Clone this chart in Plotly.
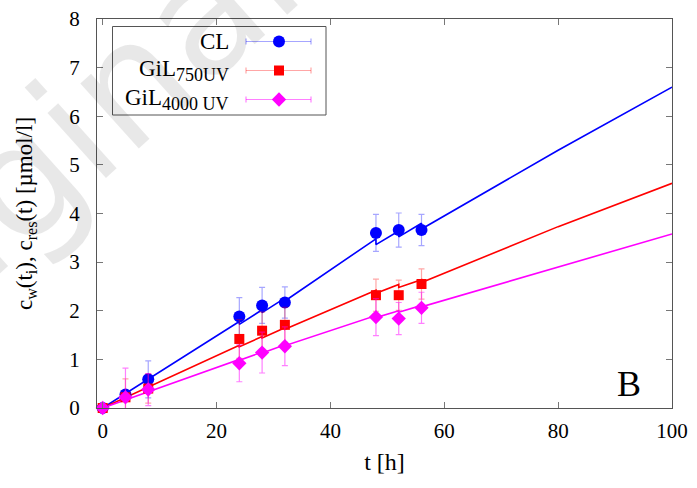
import plotly.graph_objects as go

# ---------------- data ----------------
t_pts = [0, 4, 8, 24, 28, 32, 48, 52, 56]

cl_y = [0, 0.28, 0.59, 1.88, 2.11, 2.17, 3.60, 3.66, 3.66]
cl_err = [0, 0.05, 0.38, 0.39, 0.37, 0.32, 0.38, 0.35, 0.32]

gil750_y = [0, 0.22, 0.40, 1.42, 1.59, 1.71, 2.32, 2.32, 2.55]
gil750_err = [0, 0.38, 0.30, 0.40, 0.38, 0.36, 0.33, 0.31, 0.31]

gil4000_y = [0, 0.22, 0.38, 0.92, 1.14, 1.27, 1.87, 1.84, 2.06]
gil4000_err = [0, 0.60, 0.33, 0.38, 0.42, 0.40, 0.38, 0.33, 0.32]

# model curves (value just before / after each sampling)
model_t = [0, 24, 24, 28, 28, 32, 32, 48, 48, 52, 52, 56, 56, 80, 100]
cl_model = [0, 1.78, 1.72, 2.02, 1.96, 2.26, 2.20, 3.48, 3.36, 3.64, 3.52, 3.80, 3.68, 5.30, 6.60]
gil750_model = [0, 1.29, 1.26, 1.47, 1.44, 1.65, 1.62, 2.42, 2.36, 2.54, 2.48, 2.64, 2.58, 3.73, 4.62]
gil4000_model = [0, 1.00, 0.98, 1.15, 1.13, 1.30, 1.28, 1.90, 1.86, 2.00, 1.97, 2.11, 2.08, 2.90, 3.58]

x_ticks = [0, 20, 40, 60, 80, 100]
y_ticks = [0, 1, 2, 3, 4, 5, 6, 7, 8]

legend_names = ["CL",
                "GiL<sub><span style='font-size:18px'>750UV</span></sub>",
                "GiL<sub><span style='font-size:18px'>4000 UV</span></sub>"]

# ---------------- styling ----------------
FONT = "Liberation Serif"
colors = ["#0000ff", "#ff0000", "#ff00ff"]
err_colors = ["rgba(0,0,255,0.35)", "rgba(255,0,0,0.35)", "rgba(255,0,255,0.5)"]
symbols = ["circle", "square", "diamond"]
sizes = [12, 10, 11]

L, R, T, B = 97, 672, 19, 408
W, H = 697, 488

fig = go.Figure()

# faint watermark (paper coordinates may lie outside [0,1])
fig.add_annotation(x=(39 - L) / (R - L), y=(B - 163) / (B - T), xref="paper", yref="paper",
                   text="Original", showarrow=False, textangle=-42,
                   xanchor="center", yanchor="middle",
                   font=dict(family="DejaVu Sans", size=160, color="rgba(0,0,0,0.09)"))

series = [(cl_y, cl_err, cl_model), (gil750_y, gil750_err, gil750_model),
          (gil4000_y, gil4000_err, gil4000_model)]

for i, (yv, ev, mv) in enumerate(series):
    fig.add_trace(go.Scatter(x=model_t, y=mv, mode="lines",
                             line=dict(color=colors[i], width=1.6),
                             showlegend=False, hoverinfo="skip", cliponaxis=True))
for i, (yv, ev, mv) in enumerate(series):
    fig.add_trace(go.Scatter(x=t_pts, y=yv, mode="markers",
                             marker=dict(symbol=symbols[i], size=sizes[i], color=colors[i],
                                         line=dict(width=0)),
                             error_y=dict(type="data", array=ev, visible=True,
                                          color=err_colors[i], thickness=1.2, width=3),
                             showlegend=False, cliponaxis=False))

# ---------------- custom legend (gnuplot style: text left, sample right) ----------------
row_y = [41.5, 70.5, 99.5]
for i in range(3):
    fig.add_trace(go.Scatter(x=[246, 311], y=[row_y[i], row_y[i]], mode="lines",
                             line=dict(color=err_colors[i], width=1.2),
                             xaxis="x2", yaxis="y2", showlegend=False, hoverinfo="skip"))
    for xe in (246, 311):
        fig.add_trace(go.Scatter(x=[xe, xe], y=[row_y[i] - 3, row_y[i] + 3], mode="lines",
                                 line=dict(color=err_colors[i], width=1.2),
                                 xaxis="x2", yaxis="y2", showlegend=False, hoverinfo="skip"))
    fig.add_trace(go.Scatter(x=[279], y=[row_y[i]], mode="markers",
                             marker=dict(symbol=symbols[i], size=sizes[i], color=colors[i]),
                             xaxis="x2", yaxis="y2", showlegend=False, hoverinfo="skip"))
    fig.add_annotation(x=231, y=row_y[i], xref="x2", yref="y2", text=legend_names[i],
                       showarrow=False, xanchor="right", yanchor="middle",
                       font=dict(family=FONT, size=23, color="black"))

fig.add_shape(type="rect", xref="x2", yref="y2", x0=112.5, x1=326, y0=26.5, y1=115,
              line=dict(color="#555555", width=1))

fig.add_annotation(x=0.95, y=0.005, xref="paper", yref="paper", text="B",
                   showarrow=False, xanchor="right", yanchor="bottom",
                   font=dict(family=FONT, size=36, color="black"))

axis_common = dict(showline=True, mirror="ticks", linecolor="#555555", linewidth=1,
                   ticks="inside", ticklen=6, tickcolor="#777777", showgrid=False,
                   zeroline=False, automargin=False,
                   tickfont=dict(family=FONT, size=21, color="black"))

fig.update_layout(
    width=W, height=H,
    margin=dict(l=L, r=W - R, t=T, b=H - B),
    paper_bgcolor="white", plot_bgcolor="white",
    showlegend=False,
    font=dict(family=FONT, color="black"),
    xaxis=dict(range=[-1, 100], tickvals=x_ticks, ticklabelstandoff=4,
               title=dict(text="t [h]", font=dict(family=FONT, size=24), standoff=10),
               **axis_common),
    yaxis=dict(range=[0, 8], tickvals=y_ticks, ticklabelstandoff=12,
               title=dict(text="c<sub>w</sub>(t<sub>i</sub>), c<sub>res</sub>(t) [µmol/l]",
                          font=dict(family=FONT, size=23), standoff=30),
               **axis_common),
    xaxis2=dict(range=[L, R], overlaying="x", visible=False, fixedrange=True),
    yaxis2=dict(range=[B, T], overlaying="y", visible=False, fixedrange=True),
)

fig.write_html("out.html", config={"displayModeBar": False},
               post_script="document.body.style.margin='0';document.body.style.overflow='hidden';")
